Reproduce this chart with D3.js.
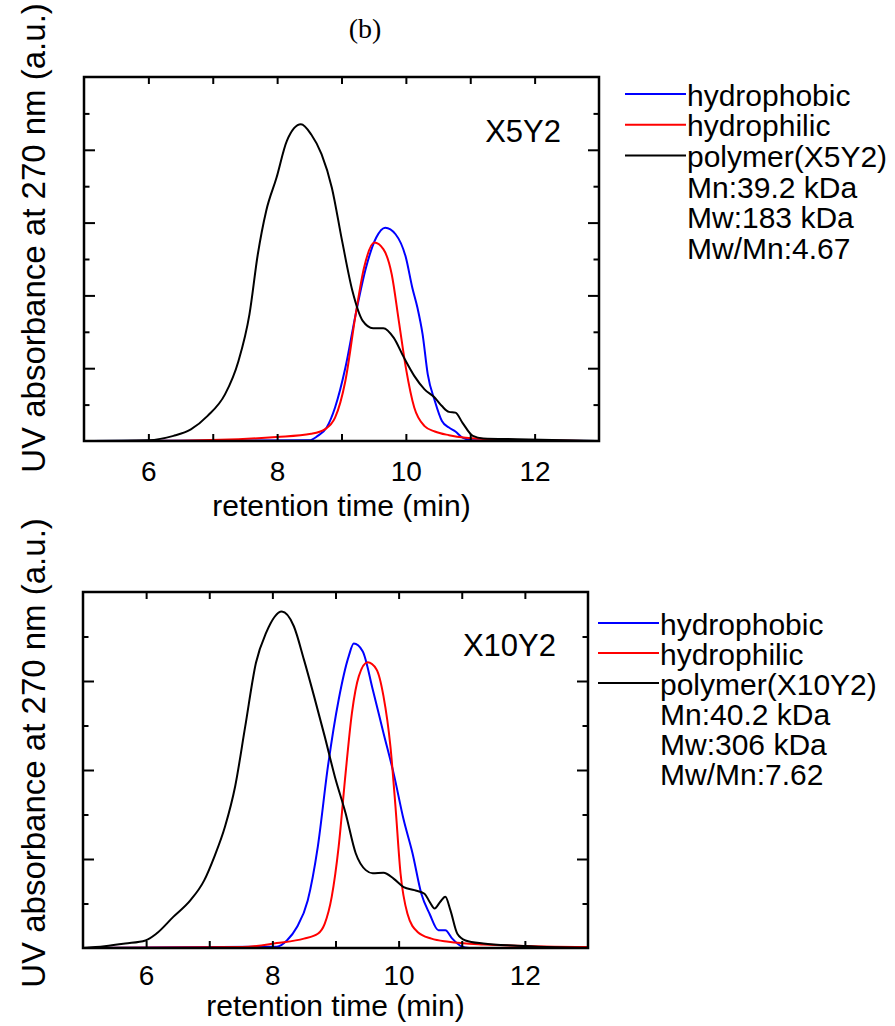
<!DOCTYPE html>
<html>
<head>
<meta charset="utf-8">
<script src="https://d3js.org/d3.v7.min.js"></script>
<style>
  body { margin: 0; background: #fff; }
  text { font-family: "Liberation Sans", Arial, sans-serif; fill: #000; }
</style>
</head>
<body>
<svg id="chart" width="895" height="1026"></svg>
<script>
// [retention time (min), UV absorbance (a.u.)]

// X5Y2 panel
const x5y2Hydrophobic = [
  [5, 0], [8.5, 0.02], [8.63, 0.14], [8.77, 0.37], [8.9, 0.92], [9.06, 2.01],
  [9.22, 3.48], [9.38, 4.76], [9.54, 5.59], [9.68, 5.86], [9.84, 5.68],
  [10.0, 5.04], [10.1, 4.21], [10.18, 3.66], [10.26, 2.93], [10.34, 1.83],
  [10.45, 1.1], [10.56, 0.55], [10.67, 0.37], [10.77, 0.26], [10.88, 0.09],
  [11.04, 0.02], [13, 0]
];
const x5y2Hydrophilic = [
  [5, 0], [6.5, 0.01], [7.99, 0.11], [8.53, 0.2], [8.74, 0.32], [8.9, 0.64],
  [9.06, 1.65], [9.22, 3.48], [9.35, 4.76], [9.51, 5.45], [9.65, 5.27],
  [9.78, 4.58], [9.89, 3.3], [10.0, 2.01], [10.13, 0.92], [10.29, 0.41],
  [10.45, 0.26], [10.67, 0.16], [10.93, 0.09], [11.47, 0.04], [13, 0]
];
const x5y2Polymer = [
  [5, 0], [6.0, 0.02], [6.39, 0.14], [6.66, 0.32], [6.92, 0.69], [7.19, 1.28],
  [7.4, 2.2], [7.57, 3.48], [7.7, 5.13], [7.83, 6.32], [7.99, 7.23],
  [8.15, 8.24], [8.37, 8.7], [8.53, 8.42], [8.69, 7.88], [8.85, 6.96],
  [9.01, 5.49], [9.17, 4.12], [9.33, 3.3], [9.49, 3.1], [9.65, 3.1],
  [9.81, 2.84], [9.97, 2.29], [10.13, 1.79], [10.29, 1.42], [10.45, 1.19],
  [10.56, 0.96], [10.67, 0.8], [10.77, 0.78], [10.88, 0.5], [11.04, 0.14],
  [11.2, 0.07], [11.73, 0.05], [13, 0]
];

// X10Y2 panel
const x10y2Hydrophobic = [
  [5, 0], [8.07, 0.03], [8.23, 0.17], [8.39, 0.47], [8.56, 1.07], [8.72, 2.28],
  [8.88, 4.08], [9.05, 5.58], [9.21, 6.56], [9.29, 6.84], [9.43, 6.67],
  [9.59, 5.81], [9.76, 4.83], [9.92, 3.93], [10.08, 2.88], [10.22, 2.13],
  [10.36, 1.22], [10.49, 0.77], [10.63, 0.4], [10.74, 0.4], [10.85, 0.21],
  [10.98, 0.05], [11.12, 0], [13, 0]
];
const x10y2Hydrophilic = [
  [5, 0], [7.52, 0.02], [8.07, 0.11], [8.5, 0.21], [8.72, 0.32], [8.83, 0.55],
  [8.94, 1.15], [9.05, 2.28], [9.16, 3.93], [9.26, 5.28], [9.37, 6.11],
  [9.51, 6.42], [9.65, 6.26], [9.76, 5.66], [9.87, 4.53], [9.95, 3.18],
  [10.03, 1.68], [10.14, 0.77], [10.3, 0.36], [10.52, 0.21], [10.79, 0.14],
  [11.34, 0.08], [13, 0.02]
];
const x10y2Polymer = [
  [5, 0], [5.34, 0.04], [5.67, 0.1], [5.99, 0.17], [6.16, 0.32], [6.43, 0.7],
  [6.7, 1.07], [6.92, 1.52], [7.08, 2.05], [7.25, 2.73], [7.41, 3.63],
  [7.57, 4.98], [7.74, 6.41], [7.9, 7.08], [8.15, 7.56], [8.34, 7.23],
  [8.5, 6.48], [8.66, 5.66], [8.83, 4.75], [8.99, 3.85], [9.16, 3.03],
  [9.32, 2.13], [9.48, 1.75], [9.59, 1.68], [9.76, 1.69], [9.92, 1.56],
  [10.08, 1.37], [10.25, 1.3], [10.41, 1.22], [10.49, 1.04], [10.57, 0.89],
  [10.66, 1.04], [10.74, 1.15], [10.82, 0.85], [10.93, 0.32], [11.06, 0.17],
  [11.34, 0.1], [11.88, 0.05], [13, 0]
];

const xTicks = [6, 7, 8, 9, 10, 11, 12];
const seriesNames = ["hydrophobic", "hydrophilic"];
const x5y2Notes = ["polymer(X5Y2)", "Mn:39.2 kDa", "Mw:183 kDa", "Mw/Mn:4.67"];
const x10y2Notes = ["polymer(X10Y2)", "Mn:40.2 kDa", "Mw:306 kDa", "Mw/Mn:7.62"];

const colors = ["#0000ff", "#ff0000", "#000000"];

const svg = d3.select("#chart");

svg.append("text")
  .attr("x", 365).attr("y", 38)
  .attr("text-anchor", "middle")
  .style("font-family", "'Liberation Serif', 'DejaVu Serif', serif")
  .style("font-size", "28px")
  .text("(b)");

const panels = [
  { id: "a", name: "X5Y2", left: 84, right: 599, top: 77, bottom: 441, yMax: 10,
    series: [x5y2Hydrophobic, x5y2Hydrophilic, x5y2Polymer], notes: x5y2Notes,
    tagX: 561, tagY: 142, legX: 625, legY: 94, legStep: 30.7,
    labelY: 238, tickPad: 20, titleY: 516 },
  { id: "b", name: "X10Y2", left: 83, right: 588, top: 592, bottom: 948, yMax: 8,
    series: [x10y2Hydrophobic, x10y2Hydrophilic, x10y2Polymer], notes: x10y2Notes,
    tagX: 556, tagY: 656, legX: 598, legY: 623, legStep: 30,
    labelY: 753, tickPad: 17, titleY: 1016 }
];

panels.forEach(p => {
  const x = d3.scaleLinear().domain([5, 13]).range([p.left, p.right]);
  const y = d3.scaleLinear().domain([0, p.yMax]).range([p.bottom, p.top]);
  const yTicks = d3.range(1, p.yMax);

  const g = svg.append("g");

  g.append("clipPath").attr("id", "clip-" + p.id)
    .append("rect")
    .attr("x", p.left).attr("y", p.top)
    .attr("width", p.right - p.left).attr("height", p.bottom - p.top);

  const line = d3.line()
    .x(d => x(d[0]))
    .y(d => y(d[1]))
    .curve(d3.curveMonotoneX);

  g.append("g").attr("clip-path", "url(#clip-" + p.id + ")")
    .selectAll("path")
    .data(p.series)
    .join("path")
      .attr("d", line)
      .attr("fill", "none")
      .attr("stroke", (d, i) => colors[i])
      .attr("stroke-width", 2)
      .attr("stroke-linejoin", "round");

  // axes, ticks pointing inward
  const bottomAxis = g.append("g")
    .attr("transform", `translate(0,${p.bottom})`)
    .call(d3.axisBottom(x).tickValues(xTicks).tickSize(-7).tickPadding(p.tickPad)
      .tickFormat(d => d % 2 === 0 ? d : ""));
  g.append("g")
    .attr("transform", `translate(0,${p.top})`)
    .call(d3.axisTop(x).tickValues(xTicks).tickSize(-7).tickFormat(""));
  const leftAxis = g.append("g")
    .attr("transform", `translate(${p.left},0)`)
    .call(d3.axisLeft(y).tickValues(yTicks).tickSize(-11).tickFormat(""));
  const rightAxis = g.append("g")
    .attr("transform", `translate(${p.right},0)`)
    .call(d3.axisRight(y).tickValues(yTicks).tickSize(-11).tickFormat(""));

  leftAxis.selectAll(".tick line").attr("x2", d => d % 2 === 0 ? 11 : 5.5);
  rightAxis.selectAll(".tick line").attr("x2", d => d % 2 === 0 ? -11 : -5.5);

  g.selectAll(".domain").remove();
  g.selectAll(".tick line").attr("stroke", "#000").attr("stroke-width", 2);
  bottomAxis.selectAll(".tick text")
    .style("font-family", "'Liberation Sans', Arial, sans-serif")
    .style("font-size", "28px")
    .attr("fill", "#000");

  g.append("rect")
    .attr("x", p.left).attr("y", p.top)
    .attr("width", p.right - p.left).attr("height", p.bottom - p.top)
    .attr("fill", "none")
    .attr("stroke", "#000")
    .attr("stroke-width", 2.5);

  g.append("text")
    .attr("x", (p.left + p.right) / 2).attr("y", p.titleY)
    .attr("text-anchor", "middle")
    .style("font-size", "30px")
    .text("retention time (min)");

  g.append("text")
    .attr("transform", `translate(45,${p.labelY}) rotate(-90)`)
    .attr("text-anchor", "middle")
    .style("font-size", "33px")
    .text("UV absorbance at 270 nm (a.u.)");

  g.append("text")
    .attr("x", p.tagX).attr("y", p.tagY)
    .attr("text-anchor", "end")
    .style("font-size", "31px")
    .text(p.name);

  // legend
  const legendLabels = seriesNames.concat(p.notes);
  const leg = g.append("g");
  leg.selectAll("line")
    .data(colors)
    .join("line")
      .attr("x1", p.legX).attr("x2", p.legX + 61)
      .attr("y1", (d, i) => p.legY + i * p.legStep)
      .attr("y2", (d, i) => p.legY + i * p.legStep)
      .attr("stroke", d => d)
      .attr("stroke-width", 2);
  leg.selectAll("text")
    .data(legendLabels)
    .join("text")
      .attr("x", p.legX + 62)
      .attr("y", (d, i) => p.legY + 11.5 + i * p.legStep)
      .style("font-size", "30px")
      .text(d => d);
});
</script>
</body>
</html>
